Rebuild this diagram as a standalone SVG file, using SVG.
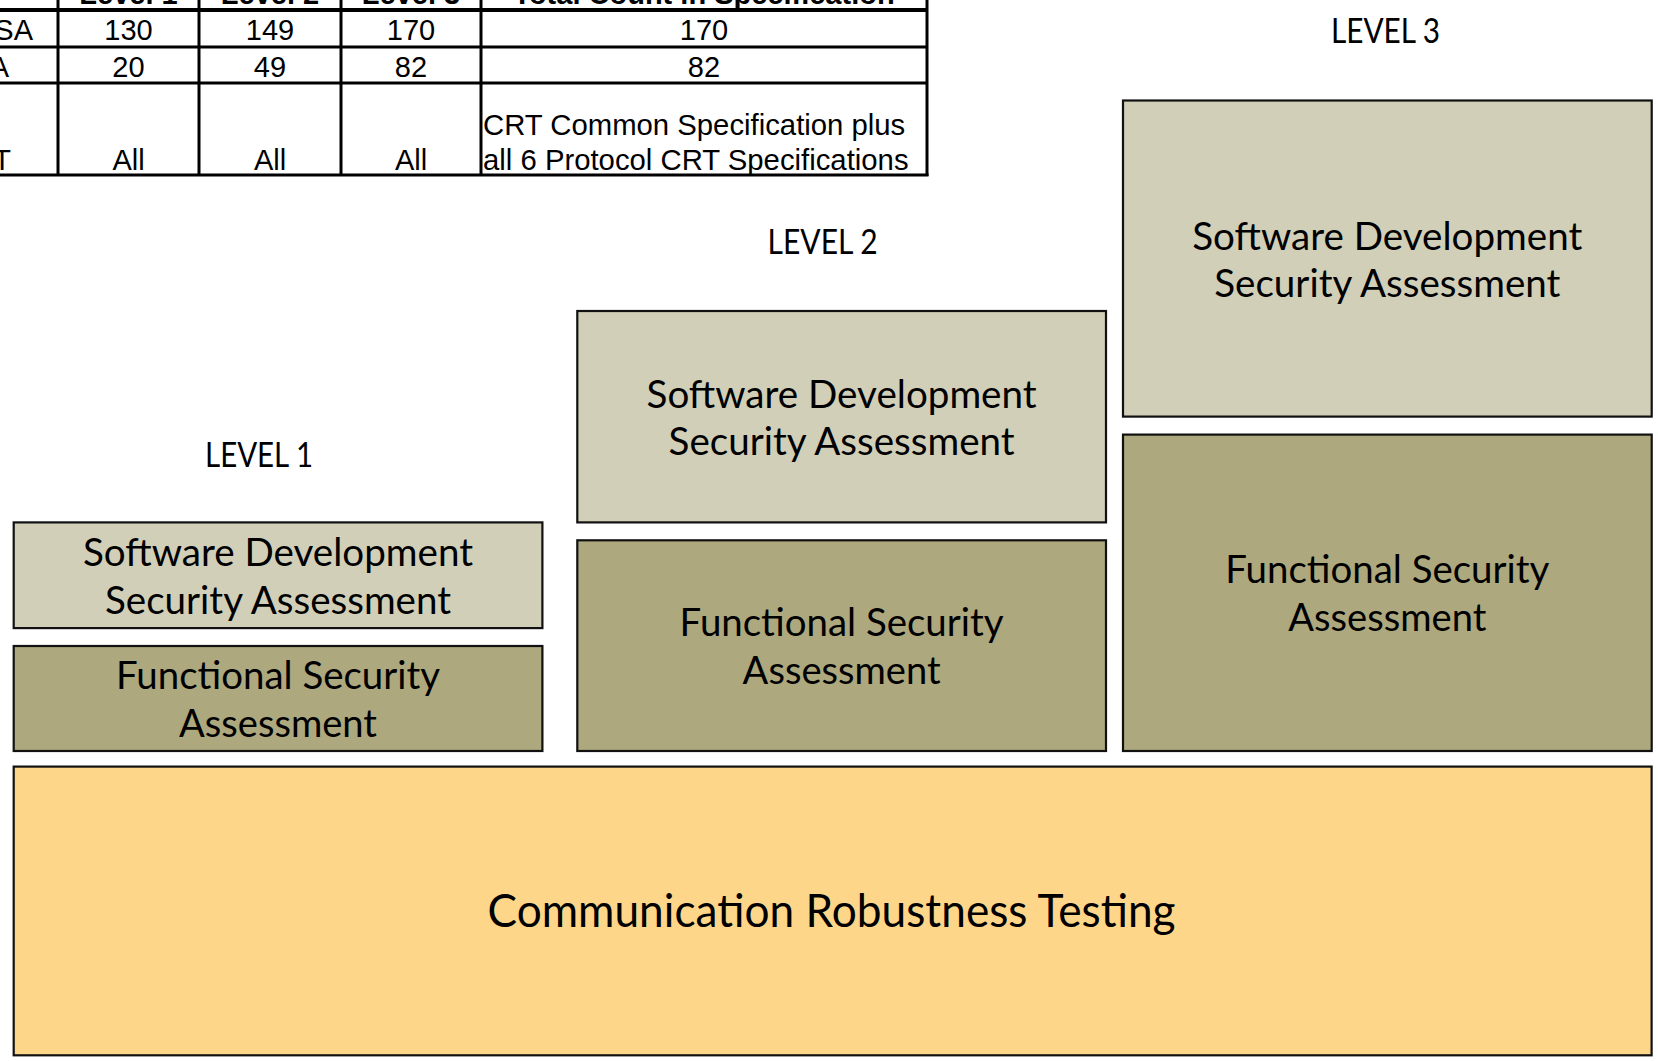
<svg xmlns="http://www.w3.org/2000/svg" width="1658" height="1061" viewBox="0 0 1658 1061">
<style>
.bg{fill:#ffffff}
.box{stroke:#111;stroke-width:2.2}
.sdsa{fill:#D1CFB8}
.fsa{fill:#ADA87E}
.crt{fill:#FED68A}
.lbl{font-family:Lato,"Open Sans","Liberation Sans",sans-serif;font-size:39px;fill:#000;text-anchor:middle}
.lvl{font-family:Lato,"Open Sans","Liberation Sans",sans-serif;font-size:34px;fill:#000;text-anchor:middle}
.big{font-family:Lato,"Open Sans","Liberation Sans",sans-serif;font-size:47px;fill:#000;text-anchor:middle}
.tl{stroke:#000;stroke-width:3;fill:none}
.tt{font-family:"Liberation Sans",Arial,sans-serif;font-size:29px;fill:#000;text-anchor:middle}
.th{font-family:"Liberation Sans",Arial,sans-serif;font-size:29px;font-weight:bold;fill:#000;text-anchor:middle}
.tle{font-family:"Liberation Sans",Arial,sans-serif;font-size:29px;fill:#000;text-anchor:end}
.tls{font-family:"Liberation Sans",Arial,sans-serif;font-size:29.3px;fill:#000;text-anchor:start}
</style>
<rect class="bg" x="0" y="0" width="1658" height="1061"/>

<g id="table">
  <text class="th" x="128.5" y="4">Level 1</text>
  <text class="th" x="270" y="4">Level 2</text>
  <text class="th" x="411" y="4">Level 3</text>
  <text class="th" x="704" y="4">Total Count in Specification</text>
  <line class="tl" x1="0" y1="10" x2="928" y2="10" style="stroke-width:4"/>
  <line class="tl" x1="0" y1="47" x2="928" y2="47"/>
  <line class="tl" x1="0" y1="83" x2="928" y2="83"/>
  <line class="tl" x1="0" y1="175" x2="928.5" y2="175"/>
  <line class="tl" x1="58" y1="0" x2="58" y2="176"/>
  <line class="tl" x1="199" y1="0" x2="199" y2="176"/>
  <line class="tl" x1="341" y1="0" x2="341" y2="176"/>
  <line class="tl" x1="481" y1="0" x2="481" y2="176"/>
  <line class="tl" x1="927" y1="0" x2="927" y2="176"/>
  <text class="tle" x="33" y="40">SA</text>
  <text class="tt" x="128.5" y="40">130</text>
  <text class="tt" x="270" y="40">149</text>
  <text class="tt" x="411" y="40">170</text>
  <text class="tt" x="704" y="40">170</text>
  <text class="tle" x="9" y="77">A</text>
  <text class="tt" x="128.5" y="77">20</text>
  <text class="tt" x="270" y="77">49</text>
  <text class="tt" x="411" y="77">82</text>
  <text class="tt" x="704" y="77">82</text>
  <text class="tle" x="11" y="170">T</text>
  <text class="tt" x="128.5" y="170">All</text>
  <text class="tt" x="270" y="170">All</text>
  <text class="tt" x="411" y="170">All</text>
  <text class="tls" x="483" y="135">CRT Common Specification plus</text>
  <text class="tls" x="483" y="170">all 6 Protocol CRT Specifications</text>
</g>

<g id="level1-label"><text class="lvl" x="259" y="467" textLength="108" lengthAdjust="spacingAndGlyphs">LEVEL 1</text></g>
<g id="level2-label"><text class="lvl" x="822.6" y="254" textLength="110" lengthAdjust="spacingAndGlyphs">LEVEL 2</text></g>
<g id="level3-label"><text class="lvl" x="1385.5" y="43" textLength="109" lengthAdjust="spacingAndGlyphs">LEVEL 3</text></g>

<g id="l1-sdsa">
  <rect class="box sdsa" x="13.7" y="522.4" width="528.7" height="105.7"/>
  <text class="lbl" x="278" y="566" textLength="390" lengthAdjust="spacingAndGlyphs">Software Development</text>
  <text class="lbl" x="278" y="614" textLength="346" lengthAdjust="spacingAndGlyphs">Security Assessment</text>
</g>
<g id="l1-fsa">
  <rect class="box fsa" x="13.7" y="646" width="528.7" height="105"/>
  <text class="lbl" x="278" y="689" textLength="324" lengthAdjust="spacingAndGlyphs">Functional Security</text>
  <text class="lbl" x="278" y="737" textLength="198" lengthAdjust="spacingAndGlyphs">Assessment</text>
</g>

<g id="l2-sdsa">
  <rect class="box sdsa" x="577.3" y="311" width="528.7" height="211.4"/>
  <text class="lbl" x="841.6" y="407.5" textLength="390" lengthAdjust="spacingAndGlyphs">Software Development</text>
  <text class="lbl" x="841.6" y="455" textLength="346" lengthAdjust="spacingAndGlyphs">Security Assessment</text>
</g>
<g id="l2-fsa">
  <rect class="box fsa" x="577.3" y="540.3" width="528.7" height="210.7"/>
  <text class="lbl" x="841.6" y="636" textLength="324" lengthAdjust="spacingAndGlyphs">Functional Security</text>
  <text class="lbl" x="841.6" y="684" textLength="198" lengthAdjust="spacingAndGlyphs">Assessment</text>
</g>

<g id="l3-sdsa">
  <rect class="box sdsa" x="1123" y="100.5" width="528.7" height="316.1"/>
  <text class="lbl" x="1387.3" y="249.5" textLength="390" lengthAdjust="spacingAndGlyphs">Software Development</text>
  <text class="lbl" x="1387.3" y="297" textLength="346" lengthAdjust="spacingAndGlyphs">Security Assessment</text>
</g>
<g id="l3-fsa">
  <rect class="box fsa" x="1123" y="434.6" width="528.7" height="316.4"/>
  <text class="lbl" x="1387.3" y="583" textLength="324" lengthAdjust="spacingAndGlyphs">Functional Security</text>
  <text class="lbl" x="1387.3" y="631" textLength="198" lengthAdjust="spacingAndGlyphs">Assessment</text>
</g>

<g id="crt">
  <rect class="box crt" x="13.7" y="766.6" width="1637.9" height="288.7"/>
  <text class="big" x="831.6" y="927" textLength="688" lengthAdjust="spacingAndGlyphs">Communication Robustness Testing</text>
</g>

<g id="connectors"></g>
</svg>
